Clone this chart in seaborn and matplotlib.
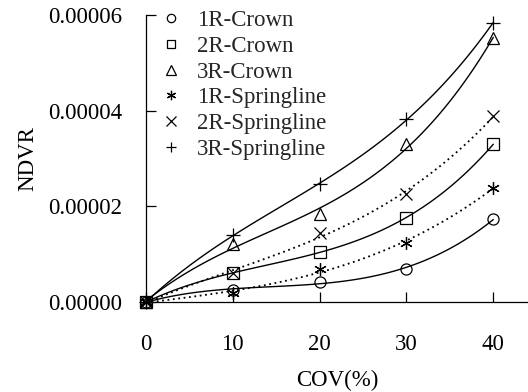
import numpy as np
import pandas as pd
import matplotlib
matplotlib.use("Agg")
import matplotlib.pyplot as plt
from matplotlib.ticker import FormatStrFormatter
import seaborn as sns

cov = [0, 10, 20, 30, 40]
r1_crown = [0.0, 2.5e-6, 4.2e-6, 7.0e-6, 1.73e-5]
r2_crown = [0.0, 6.0e-6, 1.05e-5, 1.76e-5, 3.30e-5]
r3_crown = [0.0, 1.21e-5, 1.83e-5, 3.30e-5, 5.51e-5]
r1_spring = [0.0, 1.8e-6, 7.0e-6, 1.23e-5, 2.39e-5]
r2_spring = [0.0, 6.0e-6, 1.45e-5, 2.26e-5, 3.89e-5]
r3_spring = [0.0, 1.40e-5, 2.46e-5, 3.82e-5, 5.84e-5]

names = ["1R-Crown", "2R-Crown", "3R-Crown", "1R-Springline", "2R-Springline", "3R-Springline"]
series = [r1_crown, r2_crown, r3_crown, r1_spring, r2_spring, r3_spring]
markers = ["o", "s", "^", (6, 2, 0), "x", "+"]
msizes = [8, 8, 9, 9, 9, 10]
styles = ["-", "-", "-", (0, (1, 2)), (0, (1, 2)), "-"]

sns.set_theme(style="ticks")
plt.rcParams["font.family"] = ["Liberation Serif", "DejaVu Serif"]

fig = plt.figure(figsize=(5.28, 3.92), dpi=100)
ax = fig.add_axes([146 / 528, 90 / 392, 382 / 528, 287 / 392])

for name, vals, m, ms, ls in zip(names, series, markers, msizes, styles):
    df = pd.DataFrame({"x": cov, "y": vals})
    sns.regplot(data=df, x="x", y="y", order=3, ci=None, scatter=False, ax=ax,
                truncate=True,
                line_kws={"color": "black", "lw": 1.0 if ls == "-" else 1.3, "ls": ls})
    sns.lineplot(data=df, x="x", y="y", ax=ax, marker=m, markersize=ms,
                 markerfacecolor="none", markeredgecolor="black", markeredgewidth=0.9,
                 linestyle="none", color="black", label=name, clip_on=False)

ax.set_xlim(0, 44)
ax.set_ylim(0, 6e-5)
ax.set_xticks([0, 10, 20, 30, 40])
ax.set_yticks([0, 2e-5, 4e-5, 6e-5])
ax.yaxis.set_major_formatter(FormatStrFormatter("%.5f"))
ax.tick_params(direction="in", length=7.5, width=0.9, labelsize=16.5, colors="black")
ax.tick_params(axis="x", pad=23)
ax.tick_params(axis="y", pad=17)
for s in ["top", "right"]:
    ax.spines[s].set_visible(False)
for s in ["left", "bottom"]:
    ax.spines[s].set_color("black")
    ax.spines[s].set_linewidth(0.9)

ax.set_xlabel("COV(%)", fontsize=16.5, labelpad=11, color="black")
ax.set_ylabel("NDVR", fontsize=16.5, labelpad=7, color="black")

ax.legend(loc="upper left", bbox_to_anchor=(0.0366, 1.016), frameon=False,
          fontsize=16.5, handlelength=1.0, handletextpad=0.6, labelspacing=0.2,
          borderpad=0, borderaxespad=0, markerscale=0.75)

fig.savefig("out.png", dpi=100, facecolor="white")
